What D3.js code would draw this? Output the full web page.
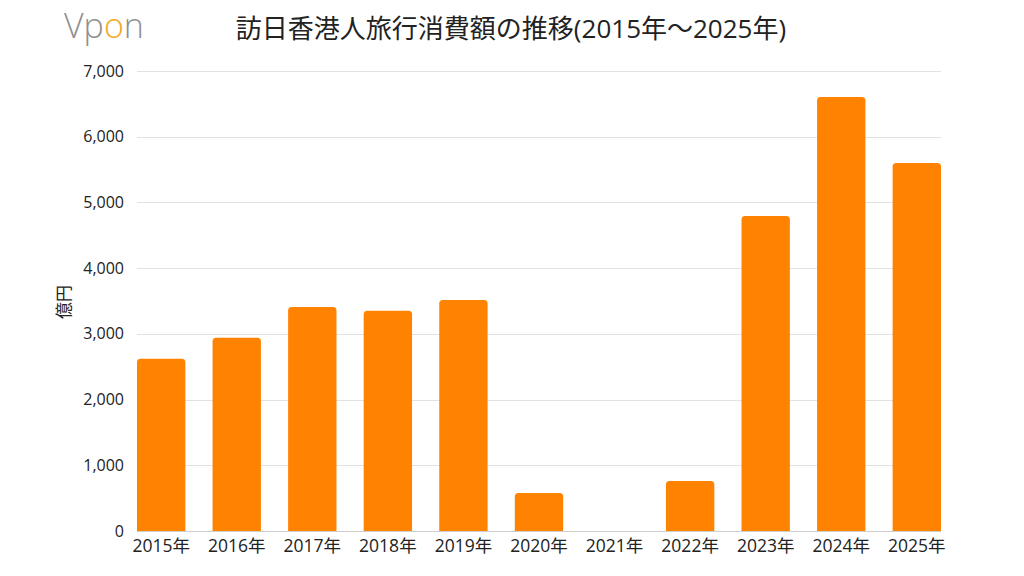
<!DOCTYPE html>
<html>
<head>
<meta charset="utf-8">
<script src="https://cdn.jsdelivr.net/npm/d3@7"></script>
<style>
  body { margin: 0; background: #fff; }
  svg { display: block; font-family: "Open Sans", "Noto Sans CJK JP", sans-serif; }
</style>
</head>
<body>
<div id="chart"></div>
<script>
// years and spending (億円)
var years = ["2015年", "2016年", "2017年", "2018年", "2019年", "2020年", "2021年", "2022年", "2023年", "2024年", "2025年"];
var values = [2620, 2940, 3410, 3350, 3515, 580, 0, 760, 4795, 6605, 5600];
var yTicks = [0, 1000, 2000, 3000, 4000, 5000, 6000, 7000];

var width = 1024, height = 576;
var margin = { top: 71, right: 83, bottom: 45, left: 137 };

var svg = d3.select("#chart").append("svg")
    .attr("width", width)
    .attr("height", height);

var x = d3.scaleBand()
    .domain(years)
    .range([margin.left, width - margin.right])
    .paddingInner(0.36)
    .paddingOuter(0);

var y = d3.scaleLinear()
    .domain([0, 7000])
    .range([height - margin.bottom, margin.top]);

// gridlines
svg.append("g")
    .selectAll("line")
    .data(yTicks)
    .enter().append("line")
    .attr("x1", margin.left)
    .attr("x2", width - margin.right)
    .attr("y1", function(d) { return Math.round(y(d)) + 0.5; })
    .attr("y2", function(d) { return Math.round(y(d)) + 0.5; })
    .attr("stroke", function(d) { return d === 0 ? "#cfcfcf" : "#e2e2e2"; })
    .attr("stroke-width", 1);

// y axis labels
var yAxis = d3.axisLeft(y)
    .tickValues(yTicks)
    .tickFormat(d3.format(","))
    .tickSize(0)
    .tickPadding(13);

svg.append("g")
    .attr("transform", "translate(" + margin.left + ",0)")
    .call(yAxis)
    .call(function(g) { g.select(".domain").remove(); })
    .selectAll("text")
    .attr("font-size", 16)
    .attr("font-family", "'Open Sans', sans-serif")
    .attr("fill", "#222");

// x axis labels
var xAxis = d3.axisBottom(x).tickSize(0).tickPadding(9);

svg.append("g")
    .attr("transform", "translate(0," + (height - margin.bottom) + ")")
    .call(xAxis)
    .call(function(g) { g.select(".domain").remove(); })
    .selectAll("text")
    .attr("font-size", 17.5)
    .attr("font-family", "'Open Sans', 'Noto Sans CJK JP', sans-serif")
    .attr("fill", "#222");

// bars, rounded top corners only
var r = 3.5;
svg.append("g")
    .selectAll("path")
    .data(values)
    .enter().append("path")
    .attr("fill", "#ff8300")
    .attr("d", function(d, i) {
        var x0 = x(years[i]), w = x.bandwidth();
        var y0 = y(0), y1 = y(d);
        var h = y0 - y1;
        if (h <= 0) return "";
        var rr = Math.min(r, h);
        return "M" + x0 + "," + y0 +
            "V" + (y1 + rr) +
            "Q" + x0 + "," + y1 + " " + (x0 + rr) + "," + y1 +
            "H" + (x0 + w - rr) +
            "Q" + (x0 + w) + "," + y1 + " " + (x0 + w) + "," + (y1 + rr) +
            "V" + y0 + "Z";
    });

// y axis title
svg.append("text")
    .attr("transform", "translate(70,302) rotate(-90)")
    .attr("text-anchor", "middle")
    .attr("font-size", 17)
    .attr("font-family", "'Noto Sans CJK JP', sans-serif")
    .attr("fill", "#222")
    .text("億円");

// chart title
svg.append("text")
    .attr("x", 511)
    .attr("y", 38)
    .attr("text-anchor", "middle")
    .attr("font-size", 26)
    .attr("font-family", "'Open Sans', 'Noto Sans CJK JP', sans-serif")
    .attr("fill", "#222")
    .text("訪日香港人旅行消費額の推移(2015年～2025年)");

// Vpon logo
var logo = svg.append("text")
    .attr("x", 64)
    .attr("y", 38)
    .attr("font-size", 34)
    .attr("font-weight", 300)
    .attr("font-family", "'Open Sans', sans-serif")
    .attr("letter-spacing", 0)
    .attr("fill", "#909090");
logo.append("tspan").text("Vp");
logo.append("tspan").attr("fill", "#f5a623").text("o");
logo.append("tspan").text("n");
</script>
</body>
</html>
